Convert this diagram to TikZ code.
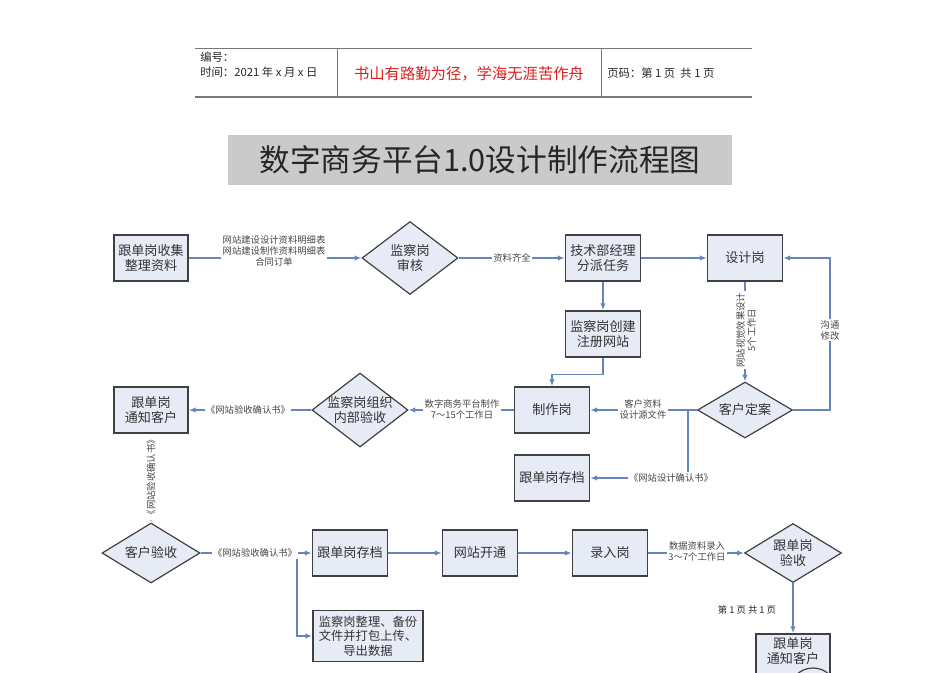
\documentclass[tikz,border=0pt]{standalone}
\usepackage{fontspec}
\setmainfont{Noto Sans CJK SC}
\usetikzlibrary{shapes.geometric,arrows.meta}
\definecolor{boxfill}{RGB}{230,235,246}
\definecolor{boxline}{RGB}{64,64,64}
\definecolor{conncol}{RGB}{100,134,188}
\definecolor{labtxt}{RGB}{70,70,70}
\definecolor{titlegray}{RGB}{202,202,202}
\definecolor{hdrline}{RGB}{120,120,120}
\definecolor{slogan}{RGB}{220,30,30}
\begin{document}
\begin{tikzpicture}[x=0.75pt,y=-0.75pt,
  box/.style={draw=boxline,line width=1.3pt,fill=boxfill,minimum width=55.5pt,minimum height=34.5pt,align=center,inner sep=1pt,font=\fontsize{9.8}{11.5}\selectfont,text=black!80},
  dia/.style={diamond,draw=boxline,line width=0.9pt,fill=boxfill,inner sep=0pt},
  dtext/.style={align=center,inner sep=0pt,font=\fontsize{9.8}{11.5}\selectfont,text=black!80},
  lab/.style={fill=white,inner sep=1pt,align=center,font=\fontsize{7}{8.3}\selectfont,text=labtxt},
  arr/.style={draw=conncol,line width=0.9pt,-{Latex[length=5pt,width=4pt]}},
  wire/.style={draw=conncol,line width=0.9pt},
  hdr/.style={font=\fontsize{8.5}{10}\selectfont,inner sep=0pt,text=black!85}]
\useasboundingbox (0,0) rectangle (950,672);

% header
\draw[hdrline,line width=0.6pt] (195,48) -- (752,48);
\draw[hdrline,line width=0.8pt] (195,97) -- (752,97);
\draw[hdrline,line width=0.6pt] (337,48) -- (337,97);
\draw[hdrline,line width=0.6pt] (601,48) -- (601,97);
\node[hdr,anchor=west] (hno) at (200,57) {编号：};
\node[hdr,anchor=west] (htime) at (200,72) {时间：2021 年 x 月 x 日};
\node[text=slogan,inner sep=0pt,font=\fontsize{11.5}{13}\selectfont] (hslogan) at (469,74) {书山有路勤为径，学海无涯苦作舟};
\node[hdr,anchor=west] (hpage) at (607,73) {页码：第 1 页\ \ 共 1 页};

% title
\node[fill=titlegray,minimum width=378pt,minimum height=38pt,inner sep=0pt,font=\fontsize{23}{26}\selectfont,text=black!85] (title) at (480,160) {数字商务平台1.0设计制作流程图};

% row 1
\node[box] (collect) at (151,258) {跟单岗收集\\整理资料};
\node[dia,minimum width=72pt,minimum height=54.75pt] (review) at (410,258) {};
\node[dtext] (reviewt) at (review) {监察岗\\审核};
\node[box,minimum width=56.25pt] (assign) at (603,258) {技术部经理\\分派任务};
\node[box,minimum width=56.25pt] (design) at (745,258) {设计岗};

% row 2
\node[box,minimum width=56.25pt] (register) at (603,334) {监察岗创建\\注册网站};

% row 3
\node[dia,minimum width=71.25pt,minimum height=42pt] (confirm) at (745,410) {};
\node[dtext] (confirmt) at (confirm) {客户定案};
\node[box,minimum width=56.25pt] (make) at (552,410) {制作岗};
\node[box,minimum width=56.25pt] (archive1) at (552,478) {跟单岗存档};
\node[dia,minimum width=72pt,minimum height=55.5pt] (inner) at (360,410) {};
\node[dtext] (innert) at (inner) {监察岗组织\\内部验收};
\node[box] (notify1) at (151,410) {跟单岗\\通知客户};

% row 4
\node[dia,minimum width=73.5pt,minimum height=45pt] (accept) at (151,553) {};
\node[dtext] (acceptt) at (accept) {客户验收};
\node[box,minimum width=56.25pt] (archive2) at (350,553) {跟单岗存档};
\node[box,minimum width=56.25pt] (open) at (480,553) {网站开通};
\node[box,minimum width=56.25pt] (entry) at (610,553) {录入岗};
\node[dia,minimum width=72.75pt,minimum height=44.25pt] (check) at (793,553) {};
\node[dtext] (checkt) at (check) {跟单岗\\验收};
\node[box,minimum width=82.5pt,minimum height=38.25pt,font=\fontsize{9.2}{10.8}\selectfont] (backup) at (368,636) {监察岗整理、备份\\文件并打包上传、\\导出数据};
\node[box,minimum width=55.5pt,minimum height=50pt,anchor=north] (notify2) at (793,633) {};
\node[dtext] (notify2t) at (793,651) {跟单岗\\通知客户};
\draw[boxline,line width=0.9pt] (813,688) ellipse [x radius=22, y radius=20];

% connectors
\draw[arr] (collect) -- (review);
\node[lab] (l1) at (274,251) {网站建设设计资料明细表\\网站建设制作资料明细表\\合同订单};
\draw[arr] (review) -- (assign);
\node[lab] (l2) at (512,258) {资料齐全};
\draw[arr] (assign) -- (design);
\draw[arr] (assign) -- (register);
\draw[arr] (design) -- (confirm);
\node[lab,rotate=90] (l3) at (746,330) {网站视觉效果设计\\5个工作日};
\coordinate (fb) at (830,410);
\draw[arr] (confirm.east) -- (fb) |- (design.east);
\node[lab] (l4) at (830,330) {沟通\\修改};
\draw[arr] (register.south) -- ++(0,17) -| (make.north);
\draw[arr] (confirm) -- (make);
\node[lab] (l5) at (643,409) {客户资料\\设计源文件};
\coordinate (br) at (688,410);
\draw[arr] (br) |- (archive1.east);
\node[lab] (l6) at (671,478) {《网站设计确认书》};
\draw[arr] (make) -- (inner);
\node[lab] (l7) at (462,409) {数字商务平台制作\\7～15个工作日};
\draw[arr] (inner) -- (notify1);
\node[lab] (l8) at (248,410) {《网站验收确认书》};
\draw[arr] (notify1) -- (accept);
\node[lab,rotate=90] (l9) at (151,477) {《网站验收确认书》};
\coordinate (jn) at (297,553);
\draw[wire] (accept.east) -- (jn);
\draw[arr] (jn) -- (archive2.west);
\draw[arr] (jn) |- (backup.west);
\node[lab] (l10) at (255,553) {《网站验收确认书》};
\draw[arr] (archive2) -- (open);
\draw[arr] (open) -- (entry);
\draw[arr] (entry) -- (check);
\node[lab] (l11) at (697,551) {数据资料录入\\3～7个工作日};
\draw[arr] (check) -- (notify2.north);
\node[inner sep=0pt,font=\fontsize{7}{8.3}\selectfont,text=black!85] (pg) at (747,610) {第 1 页 共 1 页};
\end{tikzpicture}
\end{document}
